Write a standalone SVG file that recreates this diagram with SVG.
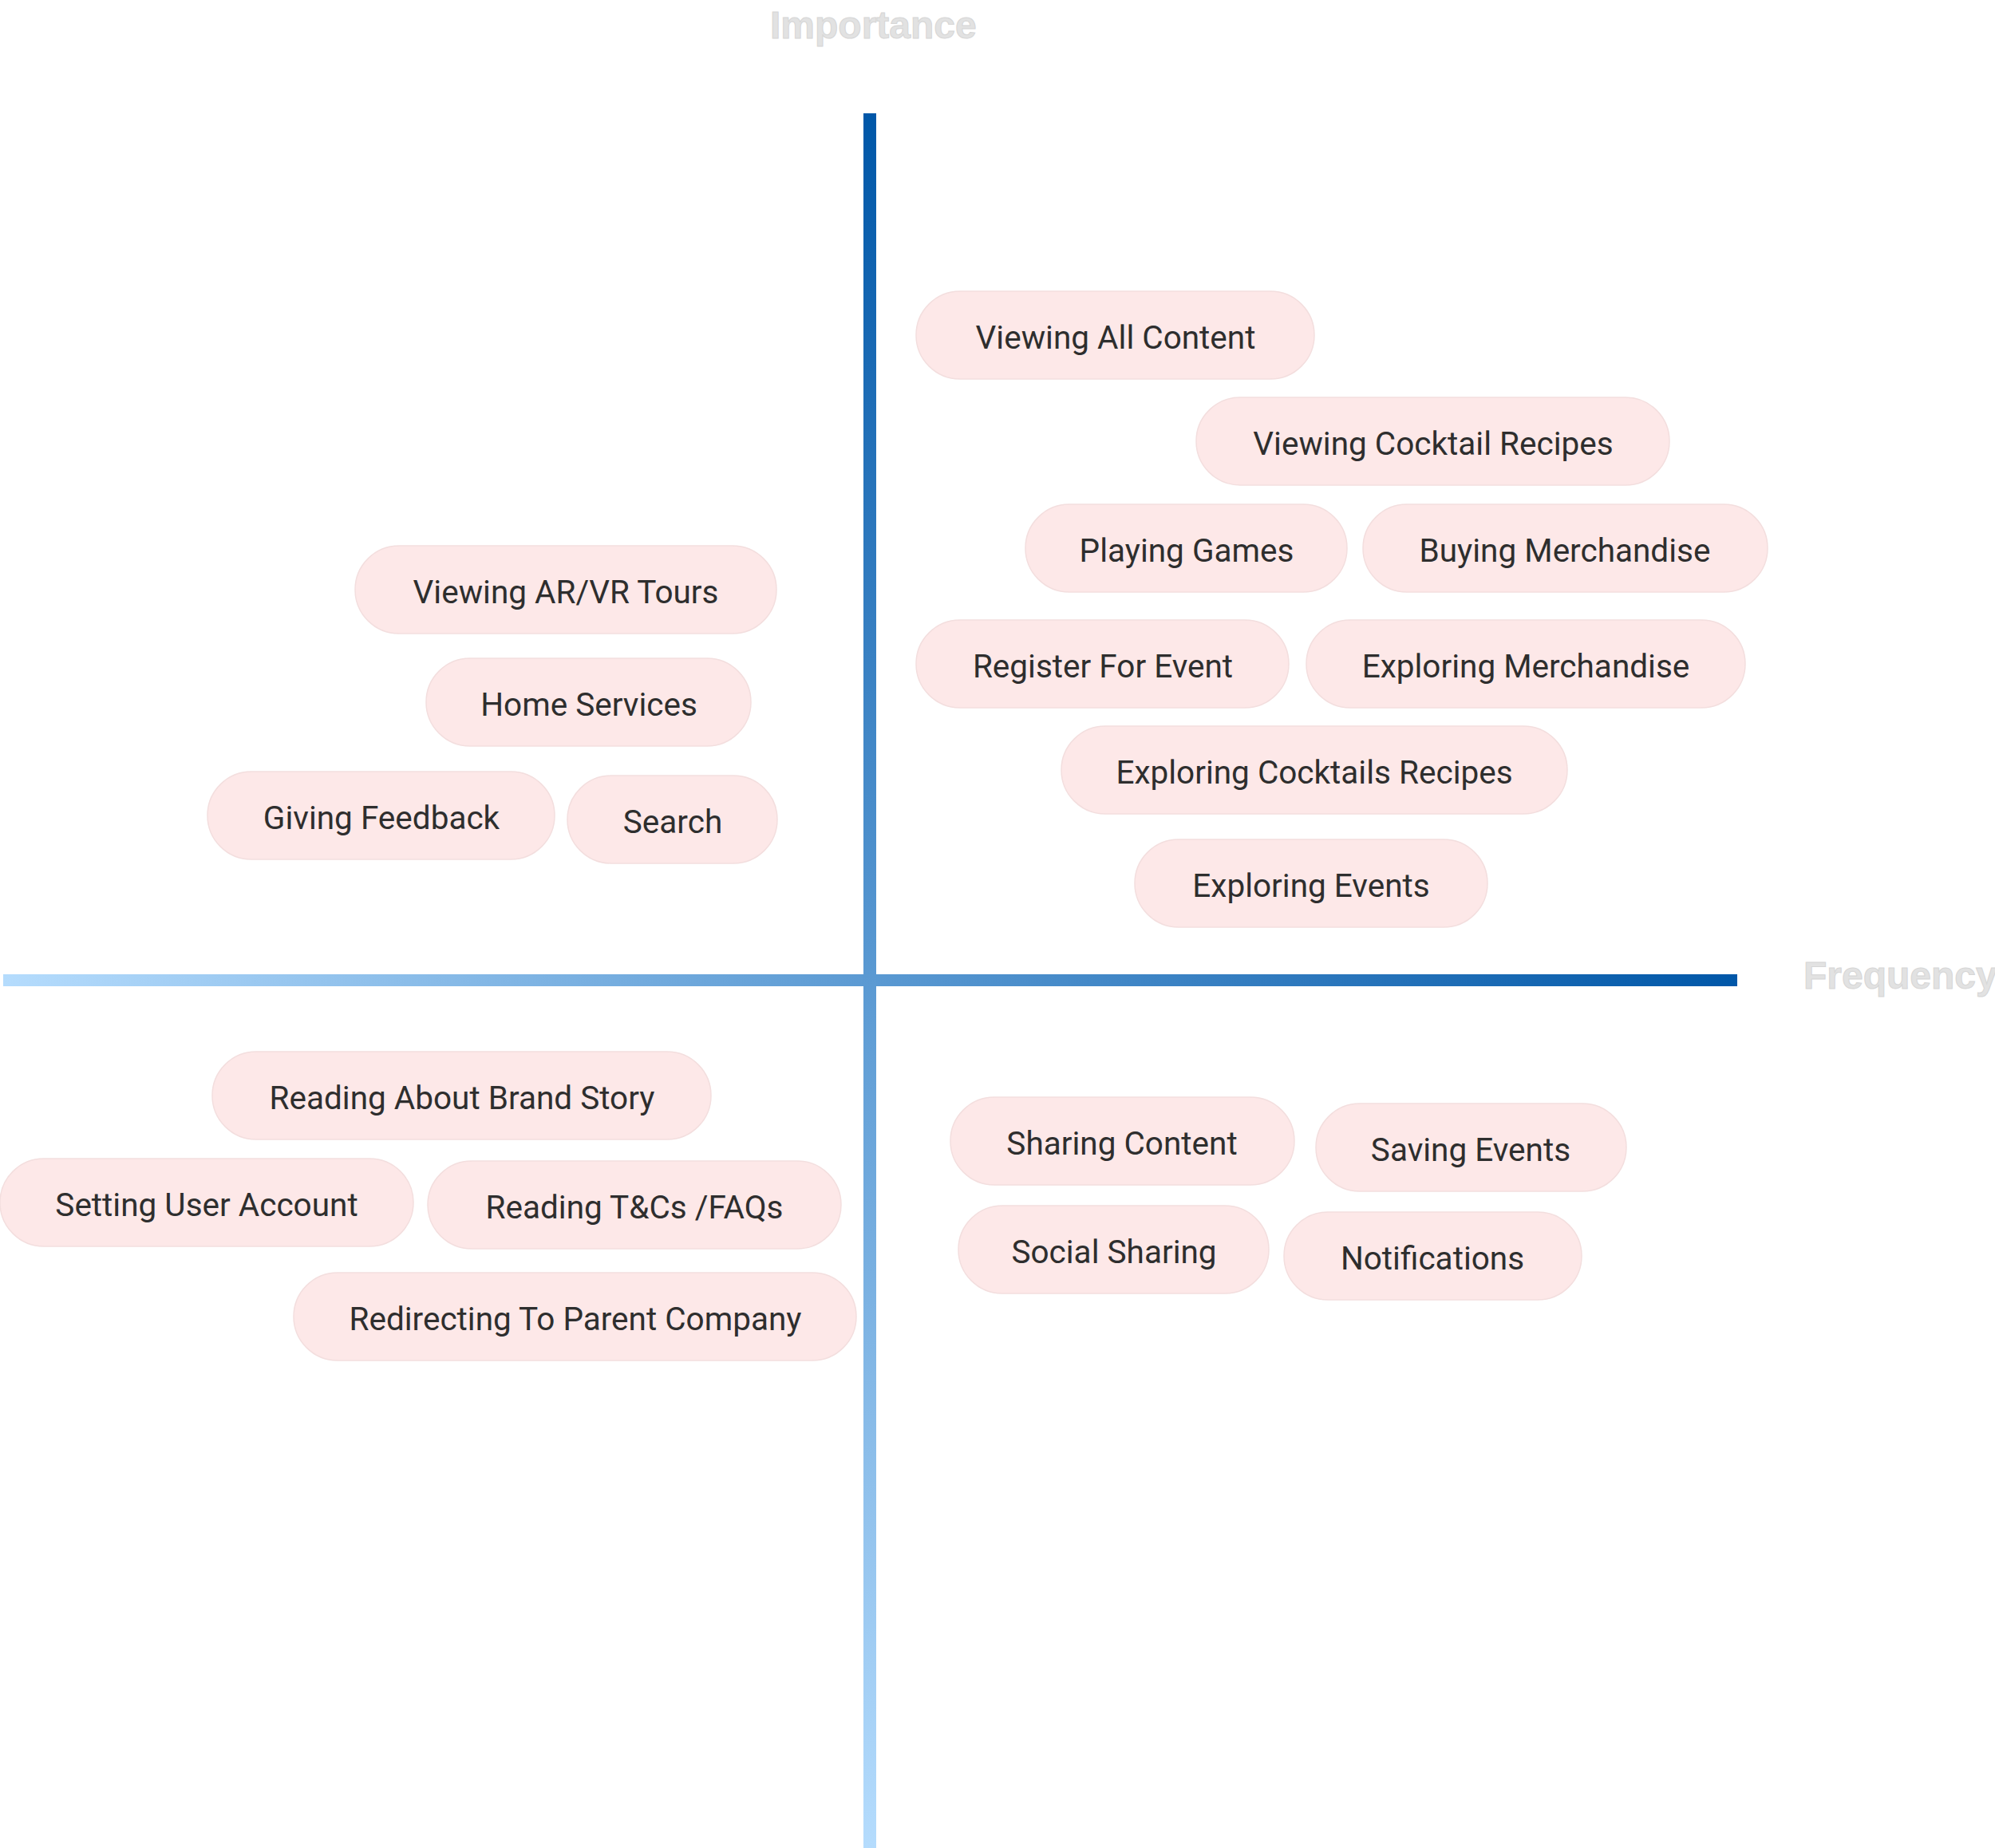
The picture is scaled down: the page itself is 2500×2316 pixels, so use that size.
<svg xmlns="http://www.w3.org/2000/svg" width="2500" height="2316" viewBox="0 0 2500 2316">
<style>
.pill rect{fill:#fde8e8;stroke:#f3dede;stroke-width:1.5}
.pill text{font-family:Roboto,"Liberation Sans",sans-serif;font-size:40.5px;fill:#2e2e2e;text-anchor:middle}
.axlabel{font-family:"Liberation Sans",Arial,sans-serif;font-weight:bold;font-size:48px;fill:#e2e2e2;stroke:#d6d6d6;stroke-width:1}
</style>
<defs>
<linearGradient id="gv" gradientUnits="userSpaceOnUse" x1="0" y1="142" x2="0" y2="2316">
<stop offset="0" stop-color="#0057a8"/>
<stop offset="1" stop-color="#b5dcfd"/>
</linearGradient>
<linearGradient id="gh" gradientUnits="userSpaceOnUse" x1="4" y1="0" x2="2177" y2="0">
<stop offset="0" stop-color="#b5dcfd"/>
<stop offset="1" stop-color="#0057a8"/>
</linearGradient>
</defs>
<rect width="2500" height="2316" fill="#ffffff"/>
<g id="axes">
<rect x="4" y="1221" width="2173" height="15" fill="url(#gh)"/>
<rect x="1082" y="142" width="16" height="2174" fill="url(#gv)"/>
</g>
<text class="axlabel" x="965" y="48">Importance</text>
<text class="axlabel" x="2260" y="1239">Frequency</text>
<g id="n1" class="pill"><rect x="1148" y="365" width="499" height="110" rx="55"/><text x="1398" y="437">Viewing All Content</text></g>
<g id="n2" class="pill"><rect x="1499" y="498" width="593" height="110" rx="55"/><text x="1796" y="570">Viewing Cocktail Recipes</text></g>
<g id="n3" class="pill"><rect x="1285" y="632" width="403" height="110" rx="55"/><text x="1487" y="704">Playing Games</text></g>
<g id="n4" class="pill"><rect x="1708" y="632" width="507" height="110" rx="55"/><text x="1961" y="704">Buying Merchandise</text></g>
<g id="n5" class="pill"><rect x="1148" y="777" width="467" height="110" rx="55"/><text x="1382" y="849">Register For Event</text></g>
<g id="n6" class="pill"><rect x="1637" y="777" width="550" height="110" rx="55"/><text x="1912" y="849">Exploring Merchandise</text></g>
<g id="n7" class="pill"><rect x="1330" y="910" width="634" height="110" rx="55"/><text x="1647" y="982">Exploring Cocktails Recipes</text></g>
<g id="n8" class="pill"><rect x="1422" y="1052" width="442" height="110" rx="55"/><text x="1643" y="1124">Exploring Events</text></g>
<g id="n9" class="pill"><rect x="445" y="684" width="528" height="110" rx="55"/><text x="709" y="756">Viewing AR/VR Tours</text></g>
<g id="n10" class="pill"><rect x="534" y="825" width="407" height="110" rx="55"/><text x="738" y="897">Home Services</text></g>
<g id="n11" class="pill"><rect x="260" y="967" width="435" height="110" rx="55"/><text x="478" y="1039">Giving Feedback</text></g>
<g id="n12" class="pill"><rect x="711" y="972" width="263" height="110" rx="55"/><text x="843" y="1044">Search</text></g>
<g id="n13" class="pill"><rect x="266" y="1318" width="625" height="110" rx="55"/><text x="579" y="1390">Reading About Brand Story</text></g>
<g id="n14" class="pill"><rect x="0" y="1452" width="518" height="110" rx="55"/><text x="259" y="1524">Setting User Account</text></g>
<g id="n15" class="pill"><rect x="536" y="1455" width="518" height="110" rx="55"/><text x="795" y="1527">Reading T&amp;Cs /FAQs</text></g>
<g id="n16" class="pill"><rect x="368" y="1595" width="705" height="110" rx="55"/><text x="721" y="1667">Redirecting To Parent Company</text></g>
<g id="n17" class="pill"><rect x="1191" y="1375" width="431" height="110" rx="55"/><text x="1406" y="1447">Sharing Content</text></g>
<g id="n18" class="pill"><rect x="1649" y="1383" width="389" height="110" rx="55"/><text x="1843" y="1455">Saving Events</text></g>
<g id="n19" class="pill"><rect x="1201" y="1511" width="389" height="110" rx="55"/><text x="1396" y="1583">Social Sharing</text></g>
<g id="n20" class="pill"><rect x="1609" y="1519" width="373" height="110" rx="55"/><text x="1795" y="1591">Notifications</text></g>
</svg>
